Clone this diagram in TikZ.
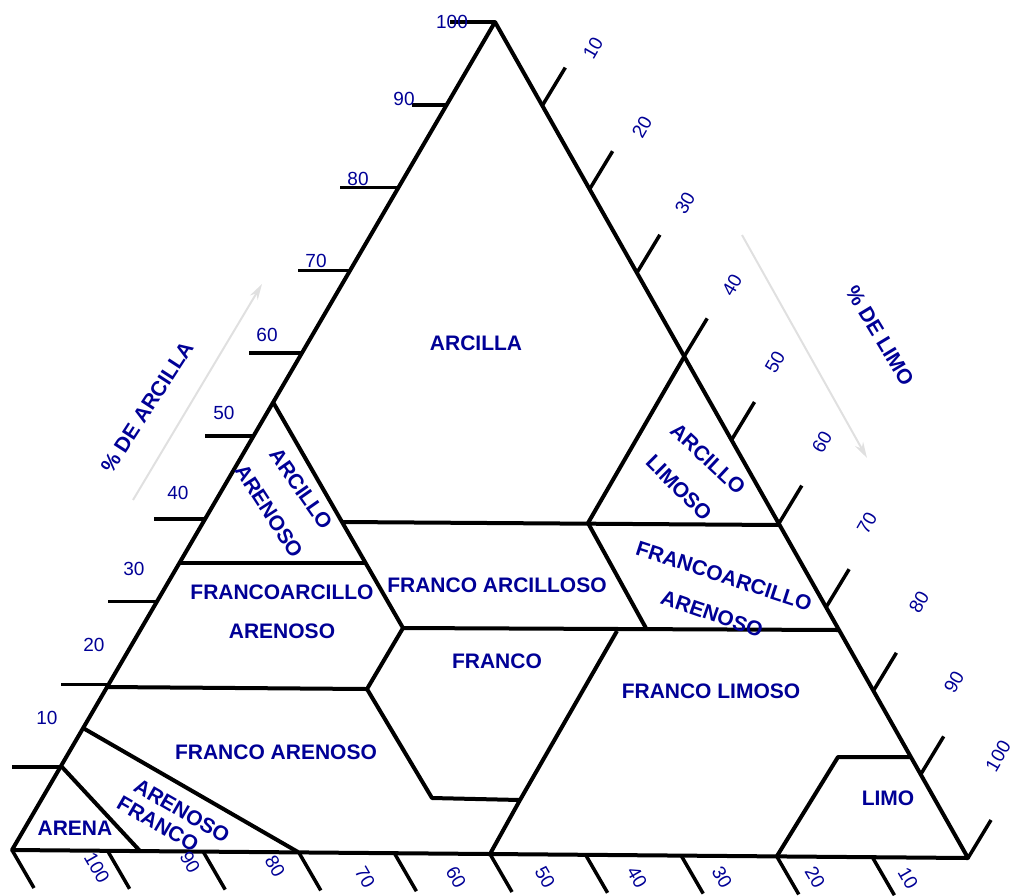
\documentclass[tikz,border=0pt]{standalone}
\usepackage{fontspec}
\setmainfont{Liberation Sans}
\usetikzlibrary{calc,arrows.meta}
\definecolor{azul}{RGB}{0,0,150}

\begin{document}
\begin{tikzpicture}[
    x=1pt, y=-1pt,
    borde/.style={
        line width=4pt,
        line join=round
    },
    raya/.style={
        line width=3.5pt
    },
    clase/.style={
        text=azul,
        inner sep=0pt,
        font=\fontsize{21}{23}\selectfont\bfseries
    },
    numero/.style={
        text=azul,
        inner sep=0pt,
        font=\fontsize{19}{21}\selectfont
    },
    flecha/.style={
        -{Stealth[length=16pt,width=9pt]},
        line width=2pt,
        draw=black!12
    }
]
\useasboundingbox (0,0) rectangle (1014,895);

% Triangulo
\coordinate (A) at (12,850);
\coordinate (B) at (495,22);
\coordinate (C) at (968,858);
\draw[borde] (A) -- (B) -- (C) -- cycle;

% Marcas de los ejes
\foreach \k/\l in {1/48,2/48,3/49,4/51,5/49,6/53,7/52,8/58,9/35,10/45}
    \draw[raya] ($(A)!\k/10!(B)$) -- ++(-\l,0);
\foreach \k in {1,...,10}
    \draw[raya] ($(B)!\k/10!(C)$) -- ++(23,-38);
\foreach \k in {0,...,9}
    \draw[raya] ($(A)!\k/10!(C)$) -- ++(22,38);

% Numeros
\foreach \n/\x/\y in {10/47/718,20/94/645,30/134/569,40/178/493,50/224/413,
    60/267/335,70/316/261,80/358/179,90/404/99,100/452/22}
    \node[numero] (iz\n) at (\x,\y) {\n};
\foreach \n/\x/\y in {10/593/48,20/642/127,30/685/203,40/732/285,50/775/362,
    60/822/442,70/867/523,80/919/602,90/954/682,100/998/756}
    \node[numero, rotate=60] (de\n) at (\x,\y) {\n};
\foreach \n/\x/\y in {100/97/868,90/190/862,80/275/866,70/365/877,60/456/877,
    50/545/877,40/637/877,30/722/877,20/815/877,10/908/878}
    \node[numero, rotate=-60] (ab\n) at (\x,\y) {\n};

% Limites de las clases
\coordinate (aa1) at (273,402);
\coordinate (aa2) at (343,522);
\coordinate (aa3) at (367,563);
\coordinate (fa1) at (403,628);
\coordinate (r40) at (780,525);
\coordinate (al1) at (684,357);
\coordinate (al2) at (588,523);
\coordinate (fal) at (647,630);
\coordinate (r27) at (839,630);
\coordinate (l35) at (180,563);
\coordinate (l20) at (107,687);
\coordinate (f1) at (367,689);
\coordinate (f2) at (432,798);
\coordinate (f3) at (520,800);
\coordinate (f4) at (490,854);
\coordinate (fl1) at (617,631);
\coordinate (l12) at (83,728);
\coordinate (b80) at (298,852);
\coordinate (l7) at (62,767);
\coordinate (b92) at (140,851);
\coordinate (li1) at (777,856);
\coordinate (li2) at (838,757);
\coordinate (li3) at (910,757);

\draw[borde] (aa1) -- (fa1) -- (f1) -- (f2) -- (f3) -- (f4);
\draw[borde] (aa2) -- (r40);
\draw[borde] (al1) -- (al2) -- (fal);
\draw[borde] (l35) -- (aa3);
\draw[borde] (fa1) -- (r27);
\draw[borde] (l20) -- (f1);
\draw[borde] (f3) -- (fl1);
\draw[borde] (l12) -- (b80);
\draw[borde] (l7) -- (b92);
\draw[borde] (li1) -- (li2) -- (li3);

% Flechas de los ejes
\coordinate (arc-ini) at (133,500);
\coordinate (arc-fin) at (262,284);
\coordinate (lim-ini) at (742,235);
\coordinate (lim-fin) at (867,458);
\draw[flecha] (arc-ini) -- (arc-fin);
\draw[flecha] (lim-ini) -- (lim-fin);
\node[clase, rotate=57] (ejearcilla) at (147,407) {\% DE ARCILLA};
\node[clase, rotate=-59] (ejelimo) at (880,336) {\% DE LIMO};

% Clases texturales
\node[clase] (arcilla) at (476,343) {ARCILLA};
\node[clase, rotate=-55] (arcaren1) at (301,489) {ARCILLO};
\node[clase, rotate=-57] (arcaren2) at (269,511) {ARENOSO};
\node[clase, rotate=-43] (arclim1) at (708,459) {ARCILLO};
\node[clase, rotate=-45] (arclim2) at (679,488) {LIMOSO};
\node[clase] (faa1) at (282,592) {FRANCOARCILLO};
\node[clase] (faa2) at (282,631) {ARENOSO};
\node[clase, rotate=-18] (fal1) at (724,576) {FRANCOARCILLO};
\node[clase, rotate=-19] (fal2) at (712,614) {ARENOSO};
\node[clase] (farc) at (497,585) {FRANCO ARCILLOSO};
\node[clase] (franco) at (497,661) {FRANCO};
\node[clase] (flim) at (711,691) {FRANCO LIMOSO};
\node[clase] (faren) at (276,752) {FRANCO ARENOSO};
\node[clase] (arena) at (75,828) {ARENA};
\node[clase, rotate=-30] (afr1) at (182,811) {ARENOSO};
\node[clase, rotate=-30] (afr2) at (158,824) {FRANCO};
\node[clase] (limo) at (888,798) {LIMO};

\end{tikzpicture}
\end{document}
